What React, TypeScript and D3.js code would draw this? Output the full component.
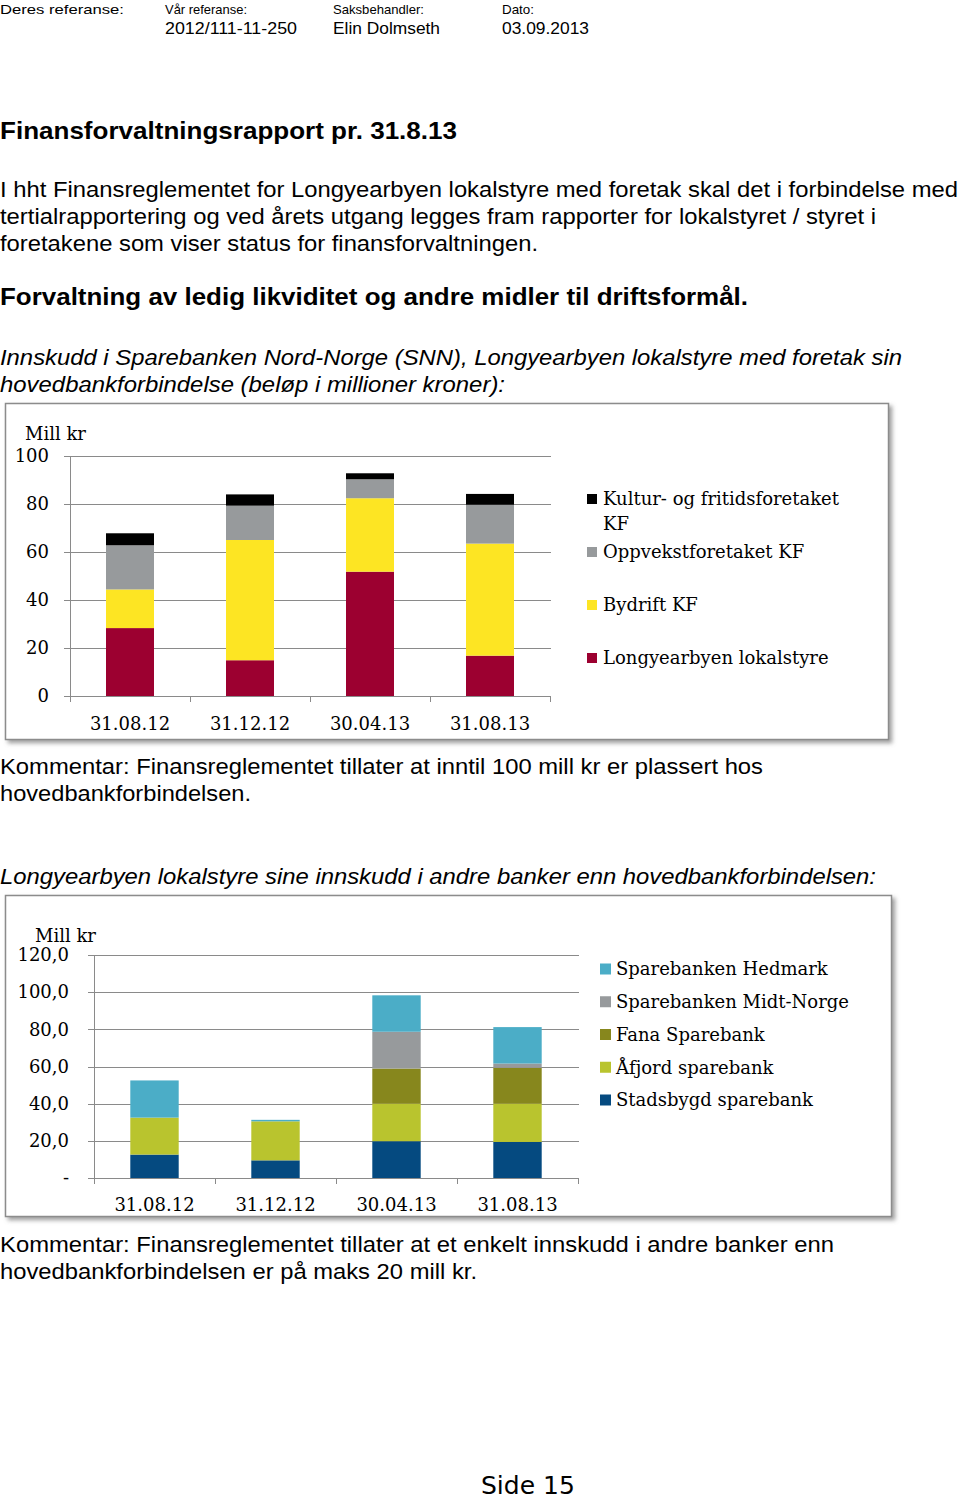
import React from "react";
import * as d3 from "d3";

// ---------- Data ----------
const categories = ["31.08.12", "31.12.12", "30.04.13", "31.08.13"];

// Chart 1 (SNN), mill kr
const longyearbyen = [28.3, 14.9, 51.8, 16.8];
const bydrift = [16.1, 50.1, 30.6, 46.7];
const oppvekst = [18.4, 14.3, 7.9, 16.2];
const kultur = [5.0, 4.7, 2.5, 4.5];
const series1Names = ["Longyearbyen lokalstyre", "Bydrift KF", "Oppvekstforetaket KF", "Kultur- og fritidsforetaket KF"];
const series1Colors = ["#9c0030", "#fde523", "#979a9c", "#000000"];
const ticks1 = [0, 20, 40, 60, 80, 100];

// Chart 2 (other banks), mill kr
const stadsbygd = [12.6, 9.5, 19.8, 19.4];
const aafjord = [19.9, 21.0, 20.1, 20.5];
const fana = [0, 0, 19.0, 19.4];
const midtNorge = [0, 0, 19.8, 2.3];
const hedmark = [20.0, 0.8, 19.6, 19.6];
const series2Names = ["Stadsbygd sparebank", "Åfjord sparebank", "Fana Sparebank", "Sparebanken Midt-Norge", "Sparebanken Hedmark"];
const series2Colors = ["#054a80", "#b9c42e", "#87871d", "#979a9c", "#4badc7"];
const ticks2 = [0, 20, 40, 60, 80, 100, 120];

const SANS = "'Liberation Sans', Arial, Helvetica, sans-serif";
const SERIF = "'DejaVu Serif', Cambria, serif";

type Line = { t: string; x: number; y: number; w: number; size: number; bold?: boolean; italic?: boolean };

const docLines: Line[] = [
  { t: "Finansforvaltningsrapport pr. 31.8.13", x: 0, y: 139, w: 457, size: 24, bold: true },
  { t: "I hht Finansreglementet for Longyearbyen lokalstyre med foretak skal det i forbindelse med", x: 0, y: 197, w: 958, size: 22 },
  { t: "tertialrapportering og ved årets utgang legges fram rapporter for lokalstyret / styret i", x: 0, y: 224, w: 876, size: 22 },
  { t: "foretakene som viser status for finansforvaltningen.", x: 0, y: 251, w: 538, size: 22 },
  { t: "Forvaltning av ledig likviditet og andre midler til driftsformål.", x: 0, y: 305, w: 748, size: 24, bold: true },
  { t: "Innskudd i Sparebanken Nord-Norge (SNN), Longyearbyen lokalstyre med foretak sin", x: 0, y: 365, w: 902, size: 22, italic: true },
  { t: "hovedbankforbindelse (beløp i millioner kroner):", x: 0, y: 392, w: 505, size: 22, italic: true },
  { t: "Kommentar: Finansreglementet tillater at inntil 100 mill kr er plassert hos", x: 0, y: 774, w: 763, size: 22 },
  { t: "hovedbankforbindelsen.", x: 0, y: 801, w: 251, size: 22 },
  { t: "Longyearbyen lokalstyre sine innskudd i andre banker enn hovedbankforbindelsen:", x: 0, y: 884, w: 876, size: 22, italic: true },
  { t: "Kommentar: Finansreglementet tillater at et enkelt innskudd i andre banker enn", x: 0, y: 1252, w: 834, size: 22 },
  { t: "hovedbankforbindelsen er på maks 20 mill kr.", x: 0, y: 1279, w: 477, size: 22 },
];

const headerLabels: Line[] = [
  { t: "Deres referanse:", x: 0, y: 14, w: 124, size: 13 },
  { t: "Vår referanse:", x: 165, y: 14, w: 82, size: 13 },
  { t: "Saksbehandler:", x: 333, y: 14, w: 91, size: 13 },
  { t: "Dato:", x: 502, y: 14, w: 32, size: 13 },
  { t: "2012/111-11-250", x: 165, y: 34, w: 132, size: 17 },
  { t: "Elin Dolmseth", x: 333, y: 34, w: 107, size: 17 },
  { t: "03.09.2013", x: 502, y: 34, w: 87, size: 17 },
];

function DocText({ l }: { l: Line }) {
  return (
    <text
      x={l.x}
      y={l.y}
      fontFamily={SANS}
      fontSize={l.size}
      fontWeight={l.bold ? "bold" : "normal"}
      fontStyle={l.italic ? "italic" : "normal"}
      textLength={l.w}
      lengthAdjust="spacingAndGlyphs"
      fill="#000"
    >
      {l.t}
    </text>
  );
}

type ChartProps = {
  frame: { x: number; y: number; w: number; h: number };
  plot: { left: number; right: number; top: number; bottom: number };
  yMax: number;
  ticks: number[];
  tickFmt: (v: number) => string;
  seriesValues: number[][];
  names: string[];
  colors: string[];
  unitPos: { x: number; y: number };
  tickLabelRight: number;
  xLabelY: number;
  legend: React.ReactNode;
};

function StackedChart(p: ChartProps) {
  const x = d3
    .scaleBand<string>()
    .domain(categories)
    .range([p.plot.left, p.plot.right])
    .paddingInner(0.6)
    .paddingOuter(0.3);
  const y = d3.scaleLinear().domain([0, p.yMax]).range([p.plot.bottom, p.plot.top]);
  const keys = p.names;
  const rows = categories.map((c, i) => {
    const r: Record<string, number | string> = { cat: c };
    keys.forEach((k, j) => (r[k] = p.seriesValues[j][i]));
    return r;
  });
  const stacked = d3.stack<Record<string, number | string>>().keys(keys)(rows as any);
  const step = x.step();
  const boundaries = d3.range(categories.length + 1).map((i) => p.plot.left + i * step);
  const gridColor = "#8a8a8a";
  return (
    <g>
      <rect
        x={p.frame.x + 0.5}
        y={p.frame.y + 0.5}
        width={p.frame.w}
        height={p.frame.h}
        fill="#fff"
        stroke="#8c8c8c"
        strokeWidth={1.5}
        filter="url(#shadow)"
      />
      {p.ticks.map((t) => (
        <line
          key={"g" + t}
          x1={p.plot.left - 6}
          x2={p.plot.right + 1}
          y1={Math.round(y(t)) + 0.5}
          y2={Math.round(y(t)) + 0.5}
          stroke={gridColor}
          strokeWidth={1}
        />
      ))}
      <line x1={p.plot.left + 0.5} x2={p.plot.left + 0.5} y1={p.plot.top} y2={p.plot.bottom + 6} stroke={gridColor} />
      {boundaries.map((b, i) => (
        <line key={"b" + i} x1={b + 0.5} x2={b + 0.5} y1={p.plot.bottom} y2={p.plot.bottom + 6} stroke={gridColor} />
      ))}
      {stacked.map((s, si) =>
        s.map((d, i) => (
          <rect
            key={si + "-" + i}
            x={x(categories[i])!}
            width={x.bandwidth()}
            y={y(d[1])}
            height={Math.max(0, y(d[0]) - y(d[1]))}
            fill={p.colors[si]}
          />
        ))
      )}
      {p.ticks.map((t) => (
        <text
          key={"t" + t}
          x={p.tickLabelRight}
          y={y(t)}
          dy="0.35em"
          textAnchor="end"
          fontFamily={SERIF}
          fontSize={18}
          fill="#000"
        >
          {p.tickFmt(t)}
        </text>
      ))}
      {categories.map((c) => (
        <text
          key={"x" + c}
          x={x(c)! + x.bandwidth() / 2}
          y={p.xLabelY}
          dy="0.35em"
          textAnchor="middle"
          fontFamily={SERIF}
          fontSize={18}
          fill="#000"
        >
          {c}
        </text>
      ))}
      <text x={p.unitPos.x} y={p.unitPos.y} dy="0.35em" fontFamily={SERIF} fontSize={18} fill="#000">
        Mill kr
      </text>
      {p.legend}
    </g>
  );
}

export default function App() {
  const legend1Items = [
    { name: series1Names[3], color: series1Colors[3], y: 499, wrap: true },
    { name: series1Names[2], color: series1Colors[2], y: 552 },
    { name: series1Names[1], color: series1Colors[1], y: 605 },
    { name: series1Names[0], color: series1Colors[0], y: 658 },
  ];
  const legend1 = (
    <g>
      {legend1Items.map((it) => (
        <g key={it.name}>
          <rect x={587} y={it.y - 5} width={10} height={10} fill={it.color} />
          {it.wrap ? (
            <text x={603} y={it.y} dy="0.35em" fontFamily={SERIF} fontSize={18} fill="#000">
              <tspan x={603}>Kultur- og fritidsforetaket</tspan>
              <tspan x={603} dy={25}>KF</tspan>
            </text>
          ) : (
            <text x={603} y={it.y} dy="0.35em" fontFamily={SERIF} fontSize={18} fill="#000">
              {it.name}
            </text>
          )}
        </g>
      ))}
    </g>
  );
  const legend2Order = [4, 3, 2, 1, 0];
  const legend2 = (
    <g>
      {legend2Order.map((si, i) => {
        const yy = 969 + i * 32.75;
        return (
          <g key={series2Names[si]}>
            <rect x={600} y={yy - 5.5} width={11} height={11} fill={series2Colors[si]} />
            <text x={616} y={yy} dy="0.35em" fontFamily={SERIF} fontSize={18} fill="#000">
              {series2Names[si]}
            </text>
          </g>
        );
      })}
    </g>
  );
  return (
    <svg
      width={960}
      height={1500}
      style={{ position: "absolute", left: 0, top: 0, background: "#fff" }}
      xmlns="http://www.w3.org/2000/svg"
    >
      <defs>
        <filter id="shadow" x="-5%" y="-5%" width="112%" height="115%">
          <feDropShadow dx={3} dy={3} stdDeviation={2} floodColor="#777" floodOpacity={0.7} />
        </filter>
      </defs>
      <rect x={0} y={0} width={960} height={1500} fill="#fff" />
      {headerLabels.map((l, i) => (
        <DocText key={"h" + i} l={l} />
      ))}
      {docLines.map((l, i) => (
        <DocText key={"d" + i} l={l} />
      ))}
      <StackedChart
        frame={{ x: 5, y: 403, w: 883, h: 336 }}
        plot={{ left: 70, right: 550, top: 456, bottom: 696 }}
        yMax={100}
        ticks={ticks1}
        tickFmt={(v) => String(v)}
        seriesValues={[longyearbyen, bydrift, oppvekst, kultur]}
        names={series1Names}
        colors={series1Colors}
        unitPos={{ x: 25, y: 434 }}
        tickLabelRight={49}
        xLabelY={724}
        legend={legend1}
      />
      <StackedChart
        frame={{ x: 5, y: 895, w: 886, h: 321 }}
        plot={{ left: 94, right: 578, top: 955, bottom: 1178 }}
        yMax={120}
        ticks={ticks2}
        tickFmt={(v) => (v === 0 ? "-" : d3.format(".1f")(v).replace(".", ","))}
        seriesValues={[stadsbygd, aafjord, fana, midtNorge, hedmark]}
        names={series2Names}
        colors={series2Colors}
        unitPos={{ x: 35, y: 936 }}
        tickLabelRight={69}
        xLabelY={1205}
        legend={legend2}
      />
      <text x={481} y={1494} fontFamily="'DejaVu Sans', Verdana, sans-serif" fontSize={25} fill="#000">
        Side 15
      </text>
    </svg>
  );
}
